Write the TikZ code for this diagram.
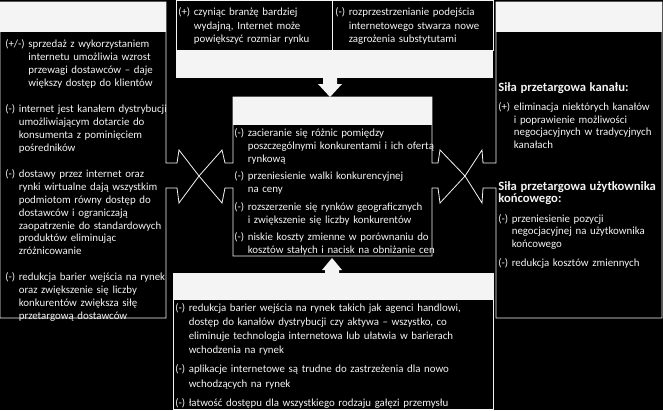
\documentclass[tikz,border=0pt]{standalone}
\usepackage{fontspec}
\setmainfont{Carlito}
\usepackage{tikz}
\usetikzlibrary{positioning}
\definecolor{boardblack}{HTML}{000000}
\definecolor{inkwhite}{HTML}{F4F4F4}

% one entry with a hanging indent after its marker
\newcommand{\pitem}[2]{\setbox0=\hbox{#1\ }\hangindent=\wd0 \hangafter=1 \noindent\box0 #2\par}
\newcommand{\phead}[1]{\noindent{\fontsize{9.5}{12}\selectfont\bfseries #1}\par}

\begin{document}
\begin{tikzpicture}[x=0.75pt, y=-0.75pt,
  box/.style={draw=inkwhite, line width=0.6pt, fill=boardblack},
  bar/.style={fill=inkwhite},
  txt/.style n args={3}{anchor=base west, inner sep=0pt, text=inkwhite,
    font=\fontsize{8.15}{#3}\selectfont, text width=#1,
    execute at begin node={\raggedright\setlength{\parskip}{#2}}}]
  \useasboundingbox (0,0) rectangle (663,410);
  \fill[boardblack] (0,0) rectangle (663,410);

  % suppliers, left
  \draw[box] (0,2) -- (166,2) -- (166,163) -- (177,163) -- (179,150) -- (199,176)
    -- (179,203) -- (177,188) -- (166,188) -- (166,318) -- (0,318) -- cycle;
  \fill[bar] (0.3,2.3) rectangle (165.7,32);
  % rivalry, centre
  \draw[box] (233,97) -- (432,97) -- (432,163) -- (438,163) -- (440,150) -- (465,176)
    -- (440,203) -- (438,188) -- (432,188) -- (432,256) -- (233,256) -- (233,188)
    -- (225,188) -- (222,203) -- (199,176) -- (222,150) -- (225,163) -- (233,163) -- cycle;
  \fill[bar] (233.3,97.3) rectangle (431.7,125);
  % buyers, right
  \draw[box] (496,2) -- (662,2) -- (662,318) -- (496,318) -- (496,188) -- (483,188)
    -- (482,203) -- (465,176) -- (482,150) -- (483,163) -- (496,163) -- cycle;
  \fill[bar] (496.3,2.3) rectangle (661.7,32);
  % substitutes, top
  \draw[box] (176,0) rectangle (332,50);
  \draw[box] (332,0) rectangle (493,50);
  \fill[bar] (176,50) rectangle (493,78);
  \fill[bar] (323,77) -- (337,77) -- (337,84) -- (342,84) -- (330,97)
    -- (318,84) -- (323,84) -- cycle;
  % new entrants, bottom
  \draw[box] (173,273) rectangle (493,409);
  \fill[bar] (173,273) rectangle (493,300);
  \fill[bar] (325,274) -- (339,274) -- (339,270) -- (342,270) -- (332,258)
    -- (322,270) -- (325,270) -- cycle;

  \node[txt={140pt}{9.7pt}{9.7pt}] (suppliers) at (5,48) {%
    \pitem{(+/-)}{sprzedaż z wykorzystaniem\newline internetu umożliwia wzrost\newline
      przewagi dostawców – daje\newline większy dostęp do klientów}
    \pitem{(-)}{internet jest kanałem dystrybucji\newline umożliwiającym dotarcie do\newline
      konsumenta z pominięciem\newline pośredników}
    \pitem{(-)}{dostawy przez internet oraz\newline rynki wirtualne dają wszystkim\newline
      podmiotom równy dostęp do\newline dostawców i ograniczają\newline
      zaopatrzenie do standardowych\newline produktów eliminując\newline zróżnicowanie}
    \pitem{(-)}{redukcja barier wejścia na rynek\newline oraz zwiększenie się liczby\newline
      konkurentów zwiększa siłę\newline przetargową dostawców}};

  \node[txt={140pt}{0pt}{9.8pt}] (subsleft) at (178,16) {%
    \pitem{(+)}{czyniąc branżę bardziej\newline wydajną, Internet może\newline
      powiększyć rozmiar rynku}};
  \node[txt={140pt}{0pt}{9.8pt}] (subsright) at (335,16) {%
    \pitem{(-)}{rozprzestrzenianie podejścia\newline internetowego stwarza nowe\newline
      zagrożenia substytutami}};

  \node[txt={170pt}{3pt}{9.9pt}] (rivalry) at (234,136) {%
    \pitem{(-)}{zacieranie się różnic pomiędzy\newline
      poszczególnymi konkurentami i ich ofertą\newline rynkową}
    \pitem{(-)}{przeniesienie walki konkurencyjnej\newline na ceny}
    \pitem{(-)}{rozszerzenie się rynków geograficznych\newline
      i zwiększenie się liczby konkurentów}
    \pitem{(-)}{niskie koszty zmienne w porównaniu do\newline
      kosztów stałych i nacisk na obniżanie cen}};

  \node[txt={140pt}{5pt}{9.5pt}] (channel) at (498,91) {%
    \phead{Siła przetargowa kanału:}
    \pitem{(+)}{eliminacja niektórych kanałów\newline i poprawienie możliwości\newline
      negocjacyjnych w tradycyjnych\newline kanałach}};
  \node[txt={140pt}{5pt}{9.5pt}] (enduser) at (498,190) {%
    \phead{Siła przetargowa użytkownika\newline końcowego:}
    \pitem{(-)}{przeniesienie pozycji\newline negocjacyjnej na użytkownika\newline
      końcowego}
    \pitem{(-)}{redukcja kosztów zmiennych}};

  \node[txt={260pt}{4pt}{10.6pt}] (entrants) at (175,311) {%
    \pitem{(-)}{redukcja barier wejścia na rynek takich jak agenci handlowi,\newline
      dostęp do kanałów dystrybucji czy aktywa – wszystko, co\newline
      eliminuje technologia internetowa lub ułatwia w barierach\newline
      wchodzenia na rynek}
    \pitem{(-)}{aplikacje internetowe są trudne do zastrzeżenia dla nowo\newline
      wchodzących na rynek}
    \pitem{(-)}{łatwość dostępu dla wszystkiego rodzaju gałęzi przemysłu}};
\end{tikzpicture}
\end{document}
